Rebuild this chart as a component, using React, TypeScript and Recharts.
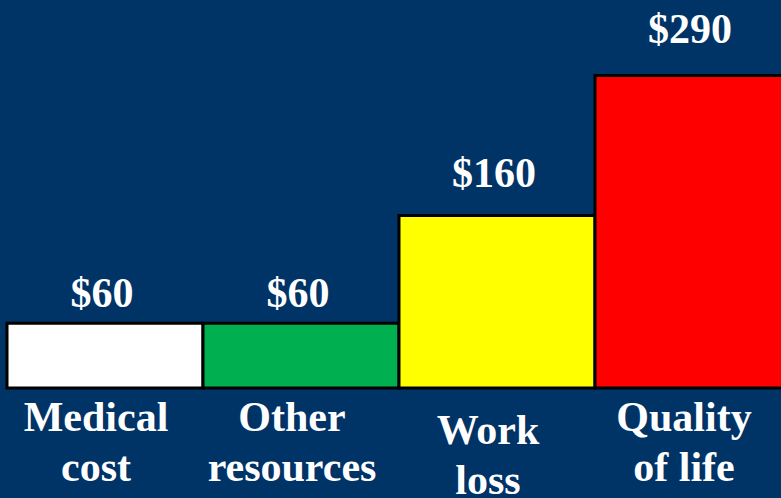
import { BarChart, Bar, XAxis, YAxis, Cell, LabelList } from "recharts";

// ── data ────────────────────────────────────────────────────────────────
const CATEGORIES = ["Medical cost", "Other resources", "Work loss", "Quality of life"];
const CATEGORY_LINES = [
    ["Medical", "cost"],
    ["Other", "resources"],
    ["Work", "loss"],
    ["Quality", "of life"],
];
const COSTS = [60, 60, 160, 290];
const COST_LABELS = ["$60", "$60", "$160", "$290"];

// ── styling ─────────────────────────────────────────────────────────────
const BG = "#003366";
const BAR_COLORS = ["#FFFFFF", "#00B050", "#FFFF00", "#FF0000"];
const FONT = "'Liberation Serif', 'Times New Roman', serif";
const LABEL_LIFT = [16, 16, 29, 32]; // distance from bar top to label baseline
const TICK_DROP = [0, 0, 13, 0]; // "Work loss" sits a little lower

const data = CATEGORIES.map((name, i) => ({
    name,
    cost: COSTS[i],
    label: COST_LABELS[i],
}));

function CategoryTick(props: any) {
    const { x, y, payload } = props;
    const i = CATEGORIES.indexOf(payload.value);
    const lines = CATEGORY_LINES[i] ?? [payload.value];
    const drop = TICK_DROP[i] ?? 0;
    const cx = x - 9;
    return (
        <text
            textAnchor="middle"
            fill="#FFFFFF"
            fontFamily={FONT}
            fontWeight="bold"
            fontSize={42}
        >
            {lines.map((line, j) => (
                <tspan key={j} x={cx} y={y + 43 + drop + j * 50}>
                    {line}
                </tspan>
            ))}
        </text>
    );
}

function CostLabel(props: any) {
    const { x, y, width, value, index } = props;
    const lift = LABEL_LIFT[index] ?? 24;
    return (
        <text
            x={x + width / 2 - 3}
            y={y - lift}
            textAnchor="middle"
            fill="#FFFFFF"
            fontFamily={FONT}
            fontWeight="bold"
            fontSize={42}
        >
            {value}
        </text>
    );
}

export default function App() {
    return (
        <div
            style={{
                position: "fixed",
                left: 0,
                top: 0,
                width: 781,
                height: 498,
                overflow: "hidden",
                background: BG,
            }}
        >
            <BarChart
                width={800}
                height={498}
                data={data}
                margin={{ top: 0, right: 9, left: 7, bottom: 0 }}
                barCategoryGap={0}
            >
                <XAxis
                    dataKey="name"
                    height={110}
                    axisLine={false}
                    tickLine={false}
                    tickSize={0}
                    tickMargin={0}
                    interval={0}
                    tick={<CategoryTick />}
                />
                <YAxis hide domain={[0, 360]} />
                <Bar
                    dataKey="cost"
                    stroke="#000000"
                    strokeWidth={3}
                    isAnimationActive={false}
                >
                    {data.map((d, i) => (
                        <Cell key={d.name} fill={BAR_COLORS[i]} />
                    ))}
                    <LabelList dataKey="label" content={<CostLabel />} />
                </Bar>
            </BarChart>
        </div>
    );
}
